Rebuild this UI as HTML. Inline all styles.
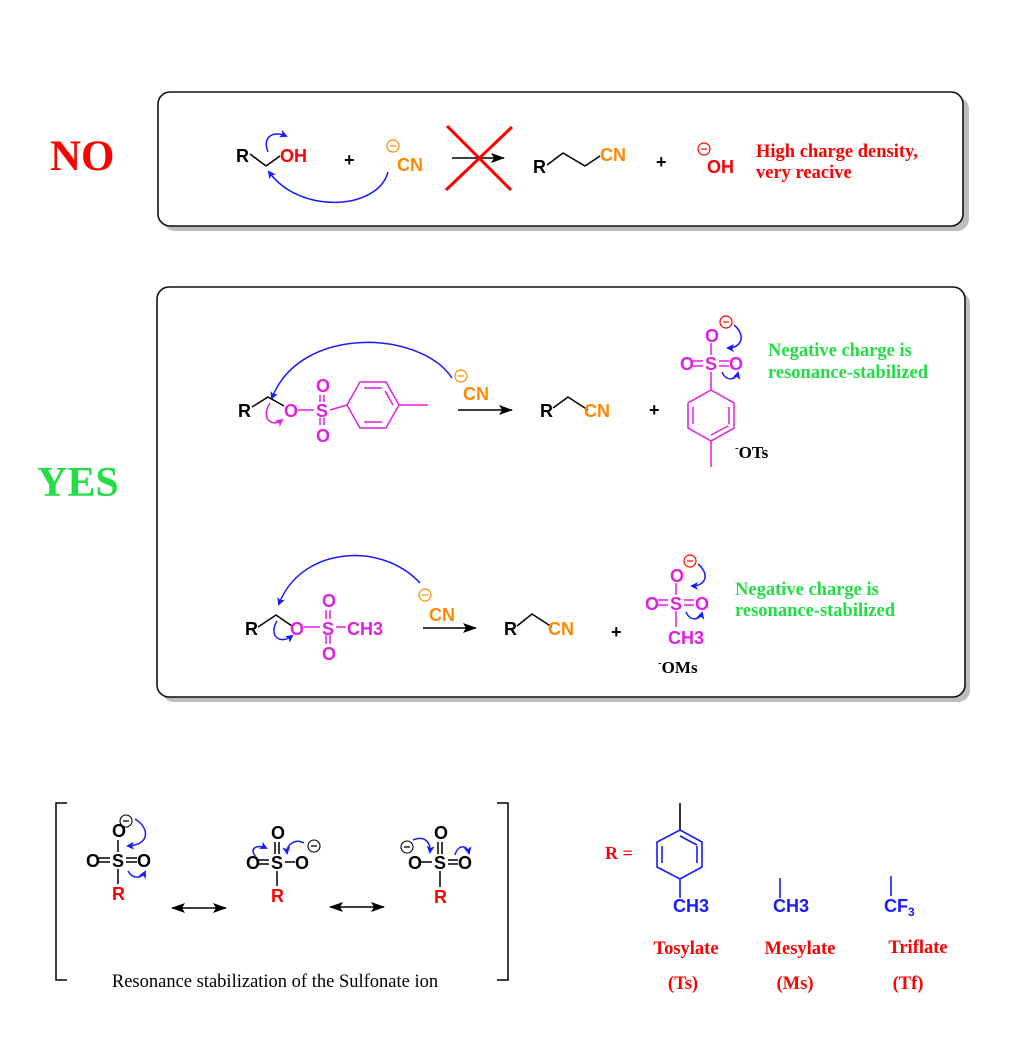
<!DOCTYPE html>
<html><head><meta charset="utf-8"><style>
html,body{margin:0;padding:0;background:#fff}
svg{display:block}
.a{font-family:"Liberation Sans",sans-serif;font-weight:bold;font-size:18px}
.s{font-family:"Liberation Serif",serif;font-weight:bold}
</style></head><body>
<svg width="1023" height="1055" viewBox="0 0 1023 1055" xmlns="http://www.w3.org/2000/svg">
<defs>
<marker id="bh" markerWidth="8" markerHeight="8" refX="6" refY="4" orient="auto" markerUnits="userSpaceOnUse"><path d="M0,0 L8,4 L0,8 L2,4 z" fill="#1a1aff"/></marker>
<marker id="mh" markerWidth="8" markerHeight="8" refX="6" refY="4" orient="auto" markerUnits="userSpaceOnUse"><path d="M0,0 L8,4 L0,8 L2,4 z" fill="#e020e0"/></marker>
<marker id="kh" markerWidth="14" markerHeight="10" refX="13" refY="5" orient="auto" markerUnits="userSpaceOnUse"><path d="M0,0 L14,5 L0,10 L3,5 z" fill="#000"/></marker>
<marker id="kt" markerWidth="14" markerHeight="10" refX="1" refY="5" orient="auto" markerUnits="userSpaceOnUse"><path d="M14,0 L0,5 L14,10 L11,5 z" fill="#000"/></marker>
</defs>

<rect x="163" y="97" width="806" height="134" rx="12" fill="#bdbdbd"/>
<rect x="158" y="92" width="805" height="134" rx="12" fill="#fff" stroke="#111" stroke-width="1.6"/>
<rect x="162" y="292" width="808" height="410" rx="12" fill="#bdbdbd"/>
<rect x="157" y="287" width="808" height="410" rx="12" fill="#fff" stroke="#111" stroke-width="1.6"/>

<text x="50" y="170" class="s" font-size="43" fill="#ff0000">NO</text>
<text x="37" y="496" class="s" font-size="42" fill="#22dd44">YES</text>

<!-- NO reaction -->
<text x="236" y="162" class="a" fill="#000">R</text>
<polyline points="250,154 266,166 280,156" fill="none" stroke="#000" stroke-width="1.5"/>
<text x="280" y="162" class="a" fill="#ff0000">OH</text>
<path d="M268,152 C262,138 272,130 286,136" fill="none" stroke="#1a1aff" stroke-width="1.5" marker-end="url(#bh)"/>
<path d="M388,172 C378,210 300,215 269,172" fill="none" stroke="#1a1aff" stroke-width="1.5" marker-end="url(#bh)"/>
<text x="344" y="166" class="a" fill="#000">+</text>
<circle cx="393" cy="146" r="6" fill="none" stroke="#ff8800" stroke-width="1.2"/><line x1="390" y1="146" x2="396" y2="146" stroke="#ff8800" stroke-width="1.2"/>
<text x="397" y="171" class="a" fill="#ff8800">CN</text>
<line x1="452" y1="158" x2="504" y2="158" stroke="#000" stroke-width="1.5" marker-end="url(#kh)"/>
<line x1="447" y1="126" x2="511" y2="190" stroke="#ff0000" stroke-width="3"/>
<line x1="512" y1="127" x2="446" y2="190" stroke="#ff0000" stroke-width="3"/>
<text x="533" y="173" class="a" fill="#000">R</text>
<polyline points="547,165 563,153 585,166 600,156" fill="none" stroke="#000" stroke-width="1.5"/>
<text x="600" y="161" class="a" fill="#ff8800">CN</text>
<text x="656" y="168" class="a" fill="#000">+</text>
<circle cx="704" cy="149" r="6" fill="none" stroke="#ff0000" stroke-width="1.2"/><line x1="701" y1="149" x2="707" y2="149" stroke="#ff0000" stroke-width="1.2"/>
<text x="707" y="173" class="a" fill="#ff0000">OH</text>
<text x="756" y="157" class="s" font-size="18.5" fill="#ff0000">High charge density,</text>
<text x="756" y="178" class="s" font-size="18.5" fill="#ff0000">very reacive</text>

<!-- Tosylate reaction -->
<text x="238" y="417" class="a" fill="#000">R</text>
<polyline points="252,407 268,397 284,406" fill="none" stroke="#000" stroke-width="1.5"/>
<path d="M270,403 C260,418 272,428 282,420" fill="none" stroke="#e020e0" stroke-width="1.5" marker-end="url(#mh)"/>
<path d="M452,378 C420,330 300,325 272,398" fill="none" stroke="#1a1aff" stroke-width="1.5" marker-end="url(#bh)"/>
<g fill="#e020e0" class="a">
<text x="284" y="417">O</text><text x="316" y="417">S</text>
<text x="316" y="392">O</text><text x="316" y="442">O</text>
</g>
<g stroke="#e020e0" stroke-width="1.5" fill="none">
<line x1="298" y1="410" x2="314" y2="410"/>
<line x1="320" y1="395" x2="320" y2="402"/><line x1="324" y1="395" x2="324" y2="402"/>
<line x1="320" y1="418" x2="320" y2="425"/><line x1="324" y1="418" x2="324" y2="425"/>
<line x1="330" y1="410" x2="347" y2="405"/>
<polygon points="347,405 360,382 386,382 399,405 386,428 360,428"/>
<line x1="364" y1="388" x2="382" y2="388"/><line x1="364" y1="422" x2="382" y2="422"/><line x1="393" y1="405" x2="385" y2="391"/>
<line x1="399" y1="405" x2="428" y2="405"/>
</g>
<circle cx="461" cy="376" r="6" fill="none" stroke="#ff8800" stroke-width="1.2"/><line x1="458" y1="376" x2="464" y2="376" stroke="#ff8800" stroke-width="1.2"/>
<text x="463" y="400" class="a" fill="#ff8800">CN</text>
<line x1="458" y1="410" x2="512" y2="410" stroke="#000" stroke-width="1.5" marker-end="url(#kh)"/>
<text x="540" y="417" class="a" fill="#000">R</text>
<polyline points="553,408 568,397 588,410" fill="none" stroke="#000" stroke-width="1.5"/>
<text x="584" y="417" class="a" fill="#ff8800">CN</text>
<text x="649" y="416" class="a" fill="#000">+</text>
<g fill="#e020e0" class="a">
<text x="705" y="342">O</text><text x="705" y="370">S</text>
<text x="680" y="370">O</text><text x="729" y="370">O</text>
</g>
<g stroke="#e020e0" stroke-width="1.5" fill="none">
<line x1="711" y1="343" x2="711" y2="355"/>
<line x1="693" y1="361" x2="703" y2="361"/><line x1="693" y1="366" x2="703" y2="366"/>
<line x1="719" y1="361" x2="729" y2="361"/><line x1="719" y1="366" x2="729" y2="366"/>
<line x1="711" y1="372" x2="711" y2="390"/>
<polygon points="711,390 734,403 734,428 711,441 688,428 688,403"/>
<line x1="693" y1="407" x2="693" y2="424"/><line x1="729" y1="407" x2="729" y2="424"/><line x1="711" y1="435" x2="728" y2="426"/>
<line x1="711" y1="441" x2="711" y2="467"/>
</g>
<circle cx="726" cy="322" r="6" fill="none" stroke="#ff0000" stroke-width="1.2"/><line x1="723" y1="322" x2="729" y2="322" stroke="#ff0000" stroke-width="1.2"/>
<path d="M734,325 C746,335 742,348 728,348" fill="none" stroke="#1a1aff" stroke-width="1.5" marker-end="url(#bh)"/>
<path d="M722,372 C726,382 736,380 738,373" fill="none" stroke="#1a1aff" stroke-width="1.5" marker-end="url(#bh)"/>
<text x="735" y="458" class="s" font-size="17" fill="#000"><tspan font-size="11" dy="-7">-</tspan><tspan dy="7">OTs</tspan></text>
<text x="768" y="356" class="s" font-size="18.5" fill="#22dd44">Negative charge is</text>
<text x="768" y="378" class="s" font-size="18.5" fill="#22dd44">resonance-stabilized</text>

<!-- Mesylate reaction -->
<text x="245" y="635" class="a" fill="#000">R</text>
<polyline points="258,627 276,615 292,626" fill="none" stroke="#000" stroke-width="1.5"/>
<path d="M277,621 C268,636 280,645 292,636" fill="none" stroke="#1a1aff" stroke-width="1.5" marker-end="url(#bh)"/>
<path d="M420,583 C380,540 300,548 279,604" fill="none" stroke="#1a1aff" stroke-width="1.5" marker-end="url(#bh)"/>
<g fill="#e020e0" class="a">
<text x="290" y="635">O</text><text x="322" y="635">S</text>
<text x="322" y="607">O</text><text x="322" y="660">O</text>
<text x="347" y="635">CH3</text>
</g>
<g stroke="#e020e0" stroke-width="1.5">
<line x1="304" y1="627" x2="320" y2="627"/>
<line x1="326" y1="610" x2="326" y2="619"/><line x1="330" y1="610" x2="330" y2="619"/>
<line x1="326" y1="635" x2="326" y2="644"/><line x1="330" y1="635" x2="330" y2="644"/>
<line x1="336" y1="627" x2="346" y2="627"/>
</g>
<circle cx="425" cy="595" r="6" fill="none" stroke="#ff8800" stroke-width="1.2"/><line x1="422" y1="595" x2="428" y2="595" stroke="#ff8800" stroke-width="1.2"/>
<text x="429" y="621" class="a" fill="#ff8800">CN</text>
<line x1="423" y1="628" x2="476" y2="628" stroke="#000" stroke-width="1.5" marker-end="url(#kh)"/>
<text x="504" y="635" class="a" fill="#000">R</text>
<polyline points="517,626 532,614 552,627" fill="none" stroke="#000" stroke-width="1.5"/>
<text x="548" y="635" class="a" fill="#ff8800">CN</text>
<text x="611" y="638" class="a" fill="#000">+</text>
<g fill="#e020e0" class="a">
<text x="670" y="582">O</text><text x="670" y="610">S</text>
<text x="645" y="610">O</text><text x="695" y="610">O</text>
<text x="668" y="644">CH3</text>
</g>
<g stroke="#e020e0" stroke-width="1.5">
<line x1="676" y1="583" x2="676" y2="595"/>
<line x1="658" y1="600" x2="668" y2="600"/><line x1="658" y1="605" x2="668" y2="605"/>
<line x1="684" y1="600" x2="694" y2="600"/><line x1="684" y1="605" x2="694" y2="605"/>
<line x1="676" y1="611" x2="676" y2="627"/>
</g>
<circle cx="690" cy="561" r="6" fill="none" stroke="#ff0000" stroke-width="1.2"/><line x1="687" y1="561" x2="693" y2="561" stroke="#ff0000" stroke-width="1.2"/>
<path d="M698,564 C710,574 706,586 692,586" fill="none" stroke="#1a1aff" stroke-width="1.5" marker-end="url(#bh)"/>
<path d="M686,612 C690,622 700,620 702,613" fill="none" stroke="#1a1aff" stroke-width="1.5" marker-end="url(#bh)"/>
<text x="658" y="673" class="s" font-size="17" fill="#000"><tspan font-size="11" dy="-7">-</tspan><tspan dy="7">OMs</tspan></text>
<text x="735" y="595" class="s" font-size="18.5" fill="#22dd44">Negative charge is</text>
<text x="735" y="616" class="s" font-size="18.5" fill="#22dd44">resonance-stabilized</text>

<!-- resonance bracket -->
<polyline points="67,803 56,803 56,980 67,980" fill="none" stroke="#000" stroke-width="1.5"/>
<polyline points="497,803 508,803 508,980 497,980" fill="none" stroke="#000" stroke-width="1.5"/>
<g class="a" fill="#000">
<text x="112" y="837">O</text><text x="112" y="867">S</text><text x="86" y="867">O</text><text x="137" y="867">O</text>
<text x="271" y="839">O</text><text x="271" y="869">S</text><text x="246" y="869">O</text><text x="295" y="869">O</text>
<text x="434" y="839">O</text><text x="434" y="869">S</text><text x="408" y="869">O</text><text x="458" y="869">O</text>
</g>
<g class="a" fill="#ff0000">
<text x="112" y="900">R</text><text x="271" y="902">R</text><text x="434" y="903">R</text>
</g>
<g stroke="#000" stroke-width="1.5">
<line x1="118" y1="840" x2="118" y2="852"/>
<line x1="99" y1="858" x2="110" y2="858"/><line x1="99" y1="862" x2="110" y2="862"/>
<line x1="126" y1="858" x2="137" y2="858"/><line x1="126" y1="862" x2="137" y2="862"/>
<line x1="118" y1="869" x2="118" y2="884"/>
<line x1="275" y1="842" x2="275" y2="854"/><line x1="279" y1="842" x2="279" y2="854"/>
<line x1="258" y1="860" x2="269" y2="860"/><line x1="258" y1="864" x2="269" y2="864"/>
<line x1="285" y1="862" x2="295" y2="862"/>
<line x1="277" y1="871" x2="277" y2="886"/>
<line x1="438" y1="842" x2="438" y2="854"/><line x1="442" y1="842" x2="442" y2="854"/>
<line x1="421" y1="862" x2="432" y2="862"/>
<line x1="448" y1="860" x2="458" y2="860"/><line x1="448" y1="864" x2="458" y2="864"/>
<line x1="440" y1="871" x2="440" y2="887"/>
<line x1="172" y1="908" x2="226" y2="908" marker-start="url(#kt)" marker-end="url(#kh)"/>
<line x1="330" y1="907" x2="384" y2="907" marker-start="url(#kt)" marker-end="url(#kh)"/>
</g>
<g fill="none" stroke="#000" stroke-width="1.1">
<circle cx="126" cy="821" r="6"/><circle cx="314" cy="846" r="6"/><circle cx="407" cy="847" r="6"/>
</g>
<g stroke="#000" stroke-width="1.3">
<line x1="123" y1="821" x2="129" y2="821"/><line x1="311" y1="846" x2="317" y2="846"/><line x1="404" y1="847" x2="410" y2="847"/>
</g>
<g fill="none" stroke="#1a1aff" stroke-width="1.5">
<path d="M135,819 C150,828 150,845 128,846" marker-end="url(#bh)"/>
<path d="M128,871 C133,880 142,878 145,872" marker-end="url(#bh)"/>
<path d="M256,857 C248,848 258,844 266,848" marker-end="url(#bh)"/>
<path d="M304,843 C295,838 286,845 287,853" marker-end="url(#bh)"/>
<path d="M413,840 C425,835 431,843 430,852" marker-end="url(#bh)"/>
<path d="M455,855 C458,844 467,845 469,853" marker-end="url(#bh)"/>
</g>
<text x="275" y="987" text-anchor="middle" font-family="Liberation Serif,serif" font-size="18.5" fill="#000">Resonance stabilization of the Sulfonate ion</text>

<!-- R = -->
<text x="605" y="859" class="s" font-size="18" fill="#ff0000">R =</text>
<g stroke="#1a1aff" stroke-width="1.6" fill="none">
<line x1="680" y1="803" x2="680" y2="830" stroke="#000"/>
<polygon points="680,830 702,842 702,867 680,879 657,867 657,842"/>
<line x1="662" y1="846" x2="662" y2="863"/><line x1="697" y1="846" x2="697" y2="863"/><line x1="680" y1="836" x2="697" y2="845"/>
<line x1="680" y1="879" x2="680" y2="898"/>
<line x1="780" y1="878" x2="780" y2="898"/>
<line x1="891" y1="876" x2="891" y2="896"/>
</g>
<g class="a" fill="#1a1aff">
<text x="673" y="912">CH3</text>
<text x="773" y="912">CH3</text>
<text x="884" y="912">CF<tspan font-size="12" dy="4">3</tspan></text>
</g>
<g class="s" font-size="18.5" fill="#ff0000" text-anchor="middle">
<text x="686" y="954">Tosylate</text><text x="800" y="954">Mesylate</text><text x="918" y="953">Triflate</text>
<text x="683" y="989">(Ts)</text><text x="795" y="989">(Ms)</text><text x="908" y="989">(Tf)</text>
</g>
</svg>
</body></html>
